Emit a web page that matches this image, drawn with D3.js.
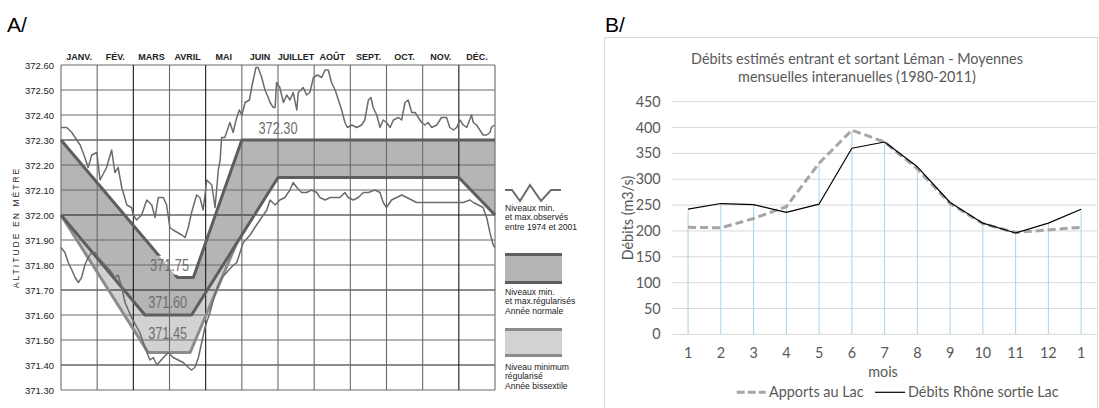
<!DOCTYPE html>
<html>
<head>
<meta charset="utf-8">
<script src="https://cdn.jsdelivr.net/npm/d3@7"></script>
<style>
  html, body { margin: 0; padding: 0; background: #fff; }
  svg { display: block; }
</style>
</head>
<body>
<svg id="fig" width="1099" height="408"></svg>
<script>
// ---------- Panel A : Lake level regulation (altitude in metres) ----------
const monthNames = ["JANV.", "FÉV.", "MARS", "AVRIL", "MAI", "JUIN", "JUILLET", "AOÛT", "SEPT.", "OCT.", "NOV.", "DÉC."];
const altitudeTicks = [372.60, 372.50, 372.40, 372.30, 372.20, 372.10, 372.00, 371.90, 371.80, 371.70, 371.60, 371.50, 371.40, 371.30];

// regulated levels: [month position, altitude]
const regMaxNormal = [[0, 372.30], [3.22, 371.75], [3.66, 371.75], [5, 372.30], [12, 372.30]];
const regMinNormal = [[0, 372.00], [2.32, 371.60], [3.61, 371.60], [6, 372.15], [11, 372.15], [12, 372.00]];
const regMinLeap = [[0, 372.00], [2.41, 371.45], [3.57, 371.45], [4.85, 371.885]];

// observed extreme levels 1974-2001: [month position, altitude]
const observedMax = [
  [0.00, 372.35], [0.16, 372.35], [0.30, 372.33], [0.39, 372.31], [0.53, 372.28], [0.66, 372.23], [0.75, 372.19],
  [0.85, 372.24], [0.99, 372.25], [1.08, 372.14], [1.26, 372.19], [1.40, 372.26], [1.49, 372.17], [1.58, 372.19],
  [1.68, 372.11], [1.82, 372.04], [1.95, 372.03], [2.00, 372.00], [2.09, 371.98], [2.23, 372.00], [2.37, 372.06],
  [2.51, 372.04], [2.60, 371.99], [2.69, 372.07], [2.83, 372.07], [2.92, 372.04], [3.01, 371.95], [3.10, 371.94],
  [3.34, 371.92], [3.43, 371.91], [3.52, 371.95], [3.61, 372.01], [3.75, 372.08], [3.84, 372.07], [3.93, 372.02],
  [4.03, 372.14], [4.17, 372.12], [4.26, 372.03], [4.35, 372.18], [4.40, 372.22], [4.44, 372.31], [4.53, 372.31],
  [4.67, 372.37], [4.76, 372.33], [4.84, 372.38], [4.93, 372.42], [5.00, 372.40], [5.09, 372.45], [5.21, 372.46],
  [5.27, 372.51], [5.39, 372.59], [5.45, 372.59], [5.55, 372.55], [5.64, 372.50], [5.73, 372.47], [5.78, 372.45],
  [5.87, 372.43], [5.92, 372.43], [5.96, 372.53], [6.05, 372.51], [6.15, 372.45], [6.24, 372.48], [6.33, 372.46],
  [6.42, 372.49], [6.52, 372.42], [6.56, 372.49], [6.70, 372.51], [6.79, 372.48], [6.88, 372.49], [6.98, 372.55],
  [7.09, 372.56], [7.21, 372.55], [7.30, 372.58], [7.39, 372.58], [7.48, 372.53], [7.58, 372.50], [7.67, 372.46],
  [7.76, 372.42], [7.85, 372.37], [7.92, 372.35], [8.04, 372.36], [8.18, 372.35], [8.31, 372.36], [8.40, 372.38],
  [8.50, 372.46], [8.57, 372.47], [8.63, 372.43], [8.73, 372.40], [8.82, 372.35], [8.91, 372.38], [9.00, 372.37],
  [9.10, 372.35], [9.19, 372.38], [9.33, 372.39], [9.42, 372.38], [9.51, 372.45], [9.60, 372.46], [9.70, 372.41],
  [9.79, 372.41], [9.88, 372.39], [9.97, 372.37], [10.06, 372.36], [10.15, 372.37], [10.25, 372.35], [10.39, 372.36],
  [10.52, 372.39], [10.66, 372.39], [10.75, 372.35], [10.85, 372.34], [10.94, 372.35], [11.03, 372.38], [11.12, 372.36],
  [11.22, 372.35], [11.35, 372.40], [11.40, 372.37], [11.49, 372.36], [11.58, 372.34], [11.67, 372.32], [11.77, 372.32],
  [11.86, 372.33], [11.90, 372.35], [11.98, 372.36]
];
const observedMin = [
  [0.00, 371.87], [0.11, 371.85], [0.20, 371.81], [0.30, 371.78], [0.39, 371.75], [0.48, 371.73], [0.57, 371.75],
  [0.66, 371.80], [0.75, 371.83], [0.85, 371.85], [0.94, 371.85], [1.03, 371.83], [1.22, 371.80], [1.35, 371.78],
  [1.49, 371.75], [1.58, 371.76], [1.68, 371.71], [1.77, 371.65], [1.95, 371.59], [2.18, 371.53], [2.32, 371.47],
  [2.46, 371.42], [2.55, 371.43], [2.65, 371.40], [2.83, 371.43], [2.97, 371.45], [3.10, 371.43], [3.24, 371.42],
  [3.38, 371.41], [3.52, 371.39], [3.61, 371.38], [3.70, 371.39], [3.80, 371.43], [3.89, 371.49], [3.98, 371.55],
  [4.12, 371.61], [4.23, 371.67], [4.35, 371.72], [4.45, 371.75], [4.58, 371.77], [4.70, 371.79], [4.86, 371.81],
  [4.95, 371.85], [5.04, 371.89], [5.23, 371.92], [5.36, 371.95], [5.50, 371.98], [5.69, 372.02], [5.78, 372.06],
  [5.92, 372.04], [6.05, 372.06], [6.19, 372.07], [6.33, 372.10], [6.42, 372.13], [6.52, 372.11], [6.65, 372.09],
  [6.79, 372.09], [6.93, 372.10], [7.07, 372.09], [7.16, 372.07], [7.30, 372.06], [7.44, 372.07], [7.58, 372.07],
  [7.71, 372.07], [7.85, 372.09], [7.94, 372.07], [8.08, 372.06], [8.22, 372.07], [8.36, 372.09], [8.50, 372.09],
  [8.68, 372.10], [8.82, 372.09], [8.91, 372.05], [9.00, 372.03], [9.14, 372.06], [9.28, 372.07], [9.42, 372.08],
  [9.56, 372.07], [9.70, 372.06], [9.83, 372.05], [10.02, 372.05], [10.20, 372.05], [10.39, 372.05], [10.57, 372.05],
  [10.75, 372.05], [10.94, 372.05], [11.12, 372.05], [11.31, 372.06], [11.40, 372.05], [11.54, 372.04], [11.67, 372.03],
  [11.77, 371.99], [11.86, 371.93], [11.95, 371.88], [12.00, 371.87]
];

// annotated levels: [text, month position, altitude of label centre]
const levelLabels = [
  ["372.30", 6.0, 372.347],
  ["371.75", 3.0, 371.80],
  ["371.60", 2.95, 371.653],
  ["371.45", 2.95, 371.528]
];

const legendA = [
  ["Niveaux min.", "et max.observés", "entre 1974 et 2001"],
  ["Niveaux min.", "et max.régularisés", "Année normale"],
  ["Niveau minimum", "régularisé", "Année bissextile"]
];

// ---------- Panel B : monthly inflow / outflow of Lake Geneva ----------
const moisLabels = ["1", "2", "3", "4", "5", "6", "7", "8", "9", "10", "11", "12", "1"];
const apportsLac = [207, 206, 224, 247, 331, 395, 372, 320, 253, 214, 197, 202, 207];
const debitsRhone = [242, 253, 251, 236, 252, 360, 372, 324, 255, 215, 196, 215, 242];
const debitTicks = [0, 50, 100, 150, 200, 250, 300, 350, 400, 450];

const svg = d3.select("#fig");
const narrow = "'Liberation Sans Narrow', 'Arial Narrow', 'Liberation Sans', sans-serif";

// ======================= Panel A =======================
const xA = d3.scaleLinear().domain([0, 12]).range([61, 495]);
const yA = d3.scaleLinear().domain([371.30, 372.60]).range([390, 65]);
const gA = svg.append("g");

gA.append("text").attr("x", 7).attr("y", 32)
  .style("font-family", "'Liberation Sans', Arial, sans-serif").style("font-size", "21px")
  .text("A/");

const lineA = d3.line().x(d => xA(d[0])).y(d => yA(d[1]));

// interpolated regulated minimum, to close the leap-year band
function levelAt(series, m) {
  for (let i = 1; i < series.length; i++) {
    if (m <= series[i][0]) {
      const a = series[i - 1], b = series[i];
      return a[1] + (b[1] - a[1]) * (m - a[0]) / (b[0] - a[0]);
    }
  }
  return series[series.length - 1][1];
}

// leap-year minimum band (light)
const leapEnd = regMinLeap[regMinLeap.length - 1][0];
const leapPoly = regMinLeap.concat(
  [[leapEnd, levelAt(regMinNormal, leapEnd)]],
  regMinNormal.filter(d => d[0] < leapEnd).reverse()
);
gA.append("path").attr("d", lineA(leapPoly) + "Z").attr("fill", "#d2d2d2");

// normal-year band between regulated min and max (darker)
const normalPoly = regMaxNormal.concat(regMinNormal.slice().reverse());
gA.append("path").attr("d", lineA(normalPoly) + "Z").attr("fill", "#b5b5b5");

// grid
const gridA = gA.append("g");
altitudeTicks.forEach((t, i) => {
  gridA.append("line")
    .attr("x1", xA(0)).attr("x2", xA(12)).attr("y1", yA(t)).attr("y2", yA(t))
    .attr("stroke", (i % 3 === 0 && i > 0 && i < 13) ? "#1a1a1a" : "#6a6a6a")
    .attr("stroke-width", 1.1);
});
d3.range(13).forEach(m => {
  const dark = (m === 2 || m === 4 || m === 11);
  gridA.append("line")
    .attr("x1", xA(m)).attr("x2", xA(m)).attr("y1", yA(372.60)).attr("y2", yA(371.30))
    .attr("stroke", dark ? "#1a1a1a" : "#6a6a6a")
    .attr("stroke-width", 1.1);
});

// month headers
gA.append("g").selectAll("text").data(monthNames).join("text")
  .attr("x", (d, i) => xA(i + 0.5)).attr("y", 59.5)
  .attr("text-anchor", "middle")
  .style("font-family", narrow).style("font-size", "9px").style("font-weight", "bold")
  .attr("fill", "#222")
  .text(d => d);

// altitude axis
const axA = gA.append("g").attr("transform", `translate(${xA(0)},0)`)
  .call(d3.axisLeft(yA).tickValues(altitudeTicks).tickFormat(d3.format(".2f")).tickSize(0).tickPadding(7));
axA.select(".domain").remove();
axA.selectAll("text").style("font-family", narrow).style("font-size", "9.5px").attr("fill", "#222");

gA.append("text")
  .attr("transform", `translate(19,${(yA(372.60) + yA(371.30)) / 2}) rotate(-90)`)
  .attr("text-anchor", "middle")
  .style("font-family", "'Liberation Sans', Arial, sans-serif").style("font-size", "8.6px")
  .style("letter-spacing", "2px").attr("fill", "#2a2a2a")
  .text("ALTITUDE EN MÈTRE");

// regulated lines
gA.append("path").attr("d", lineA(regMinLeap)).attr("fill", "none")
  .attr("stroke", "#8c8c8c").attr("stroke-width", 3).attr("stroke-linejoin", "round");
gA.append("path").attr("d", lineA(regMinNormal)).attr("fill", "none")
  .attr("stroke", "#5e5e5e").attr("stroke-width", 3).attr("stroke-linejoin", "round");

// mask that opens a gap in the max line around its level label
const defs = svg.append("defs");
const mask = defs.append("mask").attr("id", "maxGap").attr("maskUnits", "userSpaceOnUse");
mask.append("rect").attr("x", 0).attr("y", 0).attr("width", 1099).attr("height", 408).attr("fill", "#fff");

gA.append("path").attr("d", lineA(regMaxNormal)).attr("fill", "none")
  .attr("stroke", "#5e5e5e").attr("stroke-width", 3).attr("stroke-linejoin", "round")
  .attr("mask", "url(#maxGap)");

// observed extremes
[observedMax, observedMin].forEach(series => {
  gA.append("path").attr("d", lineA(series)).attr("fill", "none")
    .attr("stroke", "#6b6b6b").attr("stroke-width", 1.5).attr("stroke-linejoin", "round");
});

// level labels
levelLabels.forEach(([txt, m, lvl]) => {
  const t = gA.append("text")
    .attr("x", xA(m)).attr("y", yA(lvl)).attr("dy", "0.36em")
    .attr("text-anchor", "middle")
    .attr("textLength", 39).attr("lengthAdjust", "spacingAndGlyphs")
    .style("font-family", narrow).style("font-size", "16px")
    .attr("fill", "#6e6e6e")
    .text(txt);
  if (txt === "371.75") {
    const b = t.node().getBBox();
    mask.append("rect").attr("x", b.x - 2).attr("y", b.y - 1)
      .attr("width", b.width + 4).attr("height", b.height + 2).attr("fill", "#000");
  }
});

// legend of panel A
const legA = gA.append("g");
legA.append("path")
  .attr("d", "M505,190 L512,190 L520,201 L530,185 L541,201 L551,190 L561,190")
  .attr("fill", "none").attr("stroke", "#6b6b6b").attr("stroke-width", 2).attr("stroke-linejoin", "miter");
legA.append("rect").attr("x", 505).attr("y", 254).attr("width", 57).attr("height", 29).attr("fill", "#b5b5b5");
legA.append("rect").attr("x", 505).attr("y", 253).attr("width", 57).attr("height", 3).attr("fill", "#5e5e5e");
legA.append("rect").attr("x", 505).attr("y", 281).attr("width", 57).attr("height", 3).attr("fill", "#5e5e5e");
legA.append("rect").attr("x", 505).attr("y", 329).attr("width", 57).attr("height", 27).attr("fill", "#d2d2d2");
legA.append("rect").attr("x", 505).attr("y", 328).attr("width", 57).attr("height", 3).attr("fill", "#8c8c8c");
legA.append("rect").attr("x", 505).attr("y", 354).attr("width", 57).attr("height", 3).attr("fill", "#8c8c8c");
const legTop = [211, 295, 370];
legendA.forEach((lines, k) => {
  lines.forEach((s, j) => {
    legA.append("text").attr("x", 505).attr("y", legTop[k] + j * 9.3)
      .style("font-family", narrow).style("font-size", "8.6px").attr("fill", "#222")
      .text(s);
  });
});

// ======================= Panel B =======================
const gB = svg.append("g");
const font = "Lato, 'Open Sans', sans-serif";
const fs = "14.4px";
const grey = "#595959";

gB.append("text").attr("x", 605).attr("y", 32)
  .style("font-family", "'Liberation Sans', Arial, sans-serif").style("font-size", "21px")
  .text("B/");

gB.append("rect").attr("x", 604.5).attr("y", 37.5).attr("width", 493).attr("height", 380)
  .attr("fill", "none").attr("stroke", "#d9d9d9").attr("stroke-width", 1);

const xB = d3.scalePoint().domain(d3.range(moisLabels.length)).range([671.7, 1097.5]).padding(0.5);
const yB = d3.scaleLinear().domain([0, 450]).range([334.3, 101.7]);
const plotL = 671.7, plotR = 1097.5;

// title
["Débits estimés entrant et sortant Léman - Moyennes", "mensuelles interanuelles (1980-2011)"].forEach((s, i) => {
  gB.append("text").attr("x", 857).attr("y", 58.5 + i * 18.5).attr("dy", "0.35em")
    .attr("text-anchor", "middle")
    .style("font-family", font).style("font-size", fs).attr("fill", grey)
    .text(s);
});

// horizontal gridlines
gB.append("g").selectAll("line").data(debitTicks).join("line")
  .attr("x1", plotL).attr("x2", plotR)
  .attr("y1", d => yB(d)).attr("y2", d => yB(d))
  .attr("stroke", "#d9d9d9").attr("stroke-width", 1);

// y tick labels
const axB = gB.append("g").attr("transform", `translate(${plotL},0)`)
  .call(d3.axisLeft(yB).tickValues(debitTicks).tickSize(0).tickPadding(11));
axB.select(".domain").remove();
axB.selectAll("text").style("font-family", font).style("font-size", fs).attr("fill", grey);

// x tick labels
gB.append("g").selectAll("text").data(moisLabels).join("text")
  .attr("x", (d, i) => xB(i)).attr("y", 352.7).attr("dy", "0.35em")
  .attr("text-anchor", "middle")
  .style("font-family", font).style("font-size", fs).attr("fill", grey)
  .text(d => d);

// drop lines from the higher series to the axis
gB.append("g").selectAll("line").data(moisLabels).join("line")
  .attr("x1", (d, i) => xB(i)).attr("x2", (d, i) => xB(i))
  .attr("y1", yB(0)).attr("y2", (d, i) => yB(Math.max(apportsLac[i], debitsRhone[i])))
  .attr("stroke", "#a9d3ea").attr("stroke-width", 1);

const lineB = d3.line().x((d, i) => xB(i)).y(d => yB(d));
gB.append("path").attr("d", lineB(apportsLac)).attr("fill", "none")
  .attr("stroke", "#a5a5a5").attr("stroke-width", 3).attr("stroke-dasharray", "8,4");
gB.append("path").attr("d", lineB(debitsRhone)).attr("fill", "none")
  .attr("stroke", "#000").attr("stroke-width", 1.2).attr("stroke-linejoin", "round");

// axis titles
gB.append("text").attr("x", 883).attr("y", 371.5).attr("dy", "0.35em").attr("text-anchor", "middle")
  .style("font-family", font).style("font-size", fs).attr("fill", grey).text("mois");
gB.append("text")
  .attr("transform", `translate(628,${(yB(0) + yB(450)) / 2}) rotate(-90)`)
  .attr("dy", "0.35em").attr("text-anchor", "middle")
  .style("font-family", font).style("font-size", fs).attr("fill", grey).text("Débits (m3/s)");

// legend
const legY = 392.3;
gB.append("line").attr("x1", 736.7).attr("x2", 765.7).attr("y1", legY).attr("y2", legY)
  .attr("stroke", "#a5a5a5").attr("stroke-width", 3).attr("stroke-dasharray", "8,3");
gB.append("text").attr("x", 769).attr("y", legY).attr("dy", "0.35em")
  .style("font-family", font).style("font-size", fs).attr("fill", grey).text("Apports au Lac");
gB.append("line").attr("x1", 875).attr("x2", 905).attr("y1", legY).attr("y2", legY)
  .attr("stroke", "#000").attr("stroke-width", 1.2);
gB.append("text").attr("x", 908).attr("y", legY).attr("dy", "0.35em")
  .style("font-family", font).style("font-size", fs).attr("fill", grey).text("Débits Rhône sortie Lac");
</script>
</body>
</html>
